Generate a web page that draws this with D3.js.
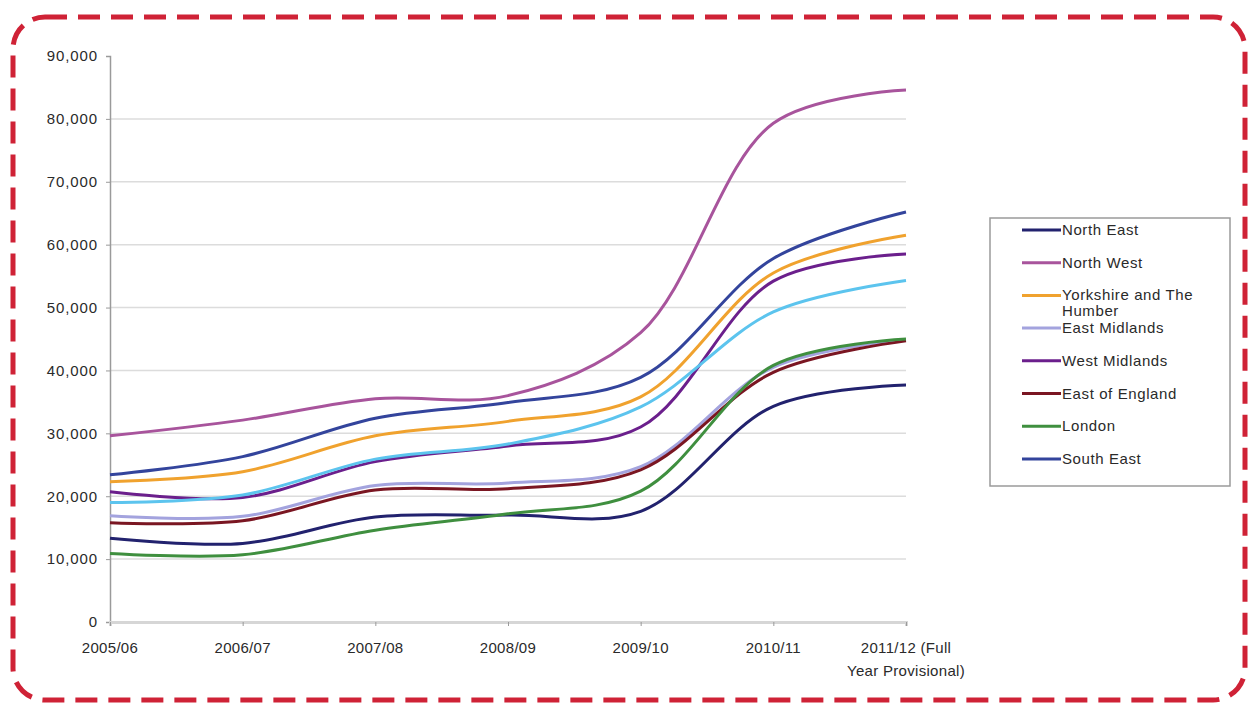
<!DOCTYPE html>
<html>
<head>
<meta charset="utf-8">
<script src="https://cdn.jsdelivr.net/npm/d3@7"></script>
<style>
  body { margin: 0; background: #fff; }
  svg { display: block; }
  text { font-family: "Liberation Sans", Arial, sans-serif; fill: #2a2a2a; }
</style>
</head>
<body>
<svg id="chart"></svg>
<script>
const width = 1250, height = 704;

// years on the x axis
const years = ["2005/06", "2006/07", "2007/08", "2008/09", "2009/10", "2010/11", "2011/12 (Full Year Provisional)"];
const yTicks = [0, 10000, 20000, 30000, 40000, 50000, 60000, 70000, 80000, 90000];

// series values
const northEast     = [13300, 12500, 16700, 17000, 17600, 34300, 37700];
const northWest     = [29600, 32100, 35500, 36000, 46000, 79300, 84600];
const yorkshire     = [22300, 23900, 29600, 31900, 35800, 55500, 61500];
const eastMidlands  = [16900, 16800, 21700, 22100, 24700, 40500, 44900];
const westMidlands  = [20700, 19800, 25500, 28000, 31000, 54200, 58500];
const eastEngland   = [15800, 16100, 21000, 21200, 24200, 39700, 44700];
const london        = [10900, 10700, 14600, 17200, 20800, 40800, 45000];
const southEast     = [23400, 26300, 32400, 34900, 38900, 57800, 65200];
const southWest     = [19000, 20200, 25900, 28300, 34200, 49300, 54300];

const names  = ["North East", "North West", "Yorkshire and The Humber", "East Midlands", "West Midlands",
                "East of England", "London", "South East", "South West"];
const colors = ["#22226e", "#a8549c", "#f0a22e", "#a3a3de", "#6b1f8c", "#7a1622", "#3f8f3f", "#33449c", "#5cc4ee"];
const values = [northEast, northWest, yorkshire, eastMidlands, westMidlands, eastEngland, london, southEast, southWest];

// the legend box in the picture only has room for the first 8
const legendCount = 8;

const svg = d3.select("#chart").attr("width", width).attr("height", height);

// dashed red frame
svg.append("rect")
    .attr("x", 13).attr("y", 17)
    .attr("width", 1232).attr("height", 683)
    .attr("rx", 32)
    .attr("fill", "none")
    .attr("stroke", "#cf2236")
    .attr("stroke-width", 5)
    .attr("stroke-dasharray", "22 11");

const x = d3.scalePoint().domain(years).range([110, 906]);
const y = d3.scaleLinear().domain([0, 90000]).range([622, 56]);

// gridlines
svg.append("g")
    .selectAll("line")
    .data(yTicks.filter(d => d > 0 && d < 90000))
    .join("line")
      .attr("x1", 110).attr("x2", 906)
      .attr("y1", d => y(d)).attr("y2", d => y(d))
      .attr("stroke", "#dcdcdc")
      .attr("stroke-width", 1.5);

// y axis
const yAxis = svg.append("g")
    .attr("transform", "translate(110,0)")
    .call(d3.axisLeft(y).tickValues(yTicks).tickFormat(d3.format(",")).tickSize(4).tickPadding(8));
yAxis.select(".domain").attr("stroke", "#9a9a9a").attr("stroke-width", 1.5);
yAxis.selectAll(".tick line").attr("stroke", "#9a9a9a");
yAxis.selectAll("text")
    .attr("font-size", 15)
    .attr("letter-spacing", 0.9)
    .attr("fill", "#2a2a2a")
    .style("font-family", "'Liberation Sans', Arial, sans-serif");

// x axis
const xAxis = svg.append("g")
    .attr("transform", "translate(0,622)")
    .call(d3.axisBottom(x).tickSize(4).tickFormat(""));
xAxis.select(".domain").attr("stroke", "#d6d6d6").attr("stroke-width", 3);
xAxis.selectAll(".tick line").attr("stroke", "#9a9a9a");

const xLabels = svg.append("g")
    .selectAll("text")
    .data(years)
    .join("text")
      .attr("x", d => x(d))
      .attr("y", 653)
      .attr("text-anchor", "middle")
      .attr("font-size", 15)
      .attr("letter-spacing", 0.3);
xLabels.each(function(d) {
    const t = d3.select(this);
    if (d.indexOf("(") > 0) {
        t.append("tspan").attr("x", x(d)).text("2011/12 (Full");
        t.append("tspan").attr("x", x(d)).attr("dy", 23).text("Year Provisional)");
    } else {
        t.text(d);
    }
});

// lines
const line = d3.line()
    .x((d, i) => x(years[i]))
    .y(d => y(d))
    .curve(d3.curveCatmullRom.alpha(0.5));

svg.append("g")
    .selectAll("path")
    .data(values)
    .join("path")
      .attr("d", d => line(d))
      .attr("fill", "none")
      .attr("stroke", (d, i) => colors[i])
      .attr("stroke-width", 3)
      .attr("stroke-linejoin", "round");

// legend
const legend = svg.append("g");
legend.append("rect")
    .attr("x", 990).attr("y", 218)
    .attr("width", 240).attr("height", 268)
    .attr("fill", "#fff")
    .attr("stroke", "#9a9a9a")
    .attr("stroke-width", 1.5);

const entries = legend.selectAll("g.entry")
    .data(names.slice(0, legendCount))
    .join("g")
      .attr("class", "entry")
      .attr("transform", (d, i) => `translate(0,${230 + i * 32.7})`);
entries.append("line")
    .attr("x1", 1022).attr("x2", 1061)
    .attr("stroke", (d, i) => colors[i])
    .attr("stroke-width", 3);
entries.append("text")
    .attr("x", 1062)
    .attr("y", 5)
    .attr("font-size", 15)
    .attr("letter-spacing", 0.6)
    .each(function(d) {
        const t = d3.select(this);
        if (d === "Yorkshire and The Humber") {
            t.append("tspan").attr("x", 1062).text("Yorkshire and The");
            t.append("tspan").attr("x", 1062).attr("dy", 16).text("Humber");
        } else {
            t.text(d);
        }
    });
</script>
</body>
</html>
